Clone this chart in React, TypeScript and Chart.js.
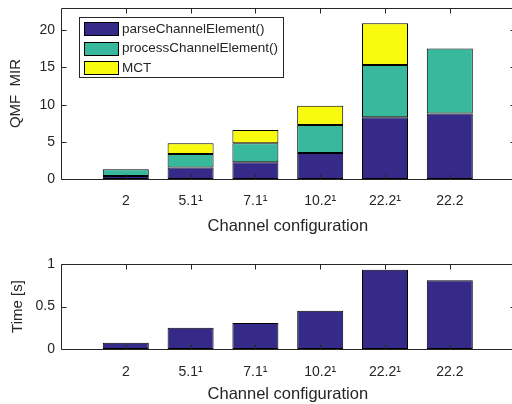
import React, { useEffect, useRef } from 'react';
import { Chart, registerables } from 'chart.js';

Chart.register(...registerables);

// ---- data ----
const categories = ['', '2', '5.1¹', '7.1¹', '10.2¹', '22.2¹', '22.2', ''];
const parseChannelElement = [null, 0.4, 1.55, 2.25, 3.5, 8.3, 8.8, null];
const processChannelElement = [null, 0.9, 1.8, 2.55, 3.75, 7.05, 8.75, null];
const mct = [null, 0, 1.45, 1.8, 2.6, 5.6, 0, null];
const timeSeconds = [null, 0.074, 0.25, 0.306, 0.45, 0.933, 0.81, null];
const mirTicks = [0, 5, 10, 15, 20];
const timeTicks = [0, 0.5, 1];
const seriesNames = ['parseChannelElement()', 'processChannelElement()', 'MCT'];
const seriesColors = ['#352a87', '#38b89c', '#f9fb0e'];

const FONT = "'Liberation Sans', Arial, Helvetica, sans-serif";
const AXIS_COLOR = '#262626';
const W = 520;
const PLOT_RIGHT = 514.6;

const boxPlugin = {
  id: 'matlabBox',
  afterDatasetsDraw(chart: any) {
    const { ctx, chartArea, scales } = chart;
    const { left, right, top, bottom } = chartArea;
    const xs = scales.x;
    const ys = scales.y;
    const TL = 5;
    ctx.save();
    ctx.strokeStyle = AXIS_COLOR;
    ctx.lineWidth = 1;
    const l = Math.round(left) + 0.5;
    const r = Math.round(right) + 0.5;
    const t = Math.round(top) + 0.5;
    const b = Math.round(bottom) + 0.5;
    ctx.beginPath();
    ctx.rect(l, t, r - l, b - t);
    for (let i = 1; i < categories.length - 1; i++) {
      const px = Math.round(xs.getPixelForValue(i)) + 0.5;
      ctx.moveTo(px, t);
      ctx.lineTo(px, t + TL);
      ctx.moveTo(px, b);
      ctx.lineTo(px, b - TL);
    }
    ys.ticks.forEach((tk: any) => {
      const py = Math.round(ys.getPixelForValue(tk.value)) + 0.5;
      ctx.moveTo(l, py);
      ctx.lineTo(l + TL, py);
      ctx.moveTo(r, py);
      ctx.lineTo(r - TL, py);
    });
    ctx.stroke();
    ctx.restore();
  },
};

const legendPlugin = {
  id: 'matlabLegend',
  afterDraw(chart: any) {
    if (!chart.options.plugins.matlabLegend?.show) return;
    const { ctx } = chart;
    ctx.save();
    const bx = 79.5, by = 17.5, bw = 204, bh = 60;
    ctx.fillStyle = '#ffffff';
    ctx.fillRect(bx, by, bw, bh);
    ctx.strokeStyle = AXIS_COLOR;
    ctx.lineWidth = 1;
    ctx.strokeRect(bx, by, bw, bh);
    const rows = [28.5, 48, 67.3];
    ctx.font = `13.5px ${FONT}`;
    ctx.textBaseline = 'middle';
    ctx.textAlign = 'left';
    seriesNames.forEach((name, i) => {
      const cy = rows[i];
      ctx.fillStyle = seriesColors[i];
      ctx.fillRect(84.5, Math.round(cy - 6.5) + 0.5, 34, 13);
      ctx.strokeStyle = '#000';
      ctx.strokeRect(84.5, Math.round(cy - 6.5) + 0.5, 34, 13);
      ctx.fillStyle = AXIS_COLOR;
      ctx.fillText(name, 122, cy + 0.5);
    });
    ctx.restore();
  },
};

function makeOptions(opts: {
  yMax: number;
  yTicks: number[];
  yTitle: string;
  yTitlePad: number;
  padTop: number;
  xHeight: number;
  xTickPad: number;
  xTitlePadBottom: number;
  legend: boolean;
}): any {
  return {
    responsive: false,
    maintainAspectRatio: false,
    animation: false,
    devicePixelRatio: 1,
    layout: { padding: { top: opts.padTop, right: W - PLOT_RIGHT, left: 0, bottom: 0 } },
    plugins: {
      legend: { display: false },
      tooltip: { enabled: false },
      matlabLegend: { show: opts.legend },
    },
    scales: {
      x: {
        type: 'category',
        stacked: true,
        offset: false,
        grid: { display: false, drawTicks: false },
        border: { display: false },
        ticks: {
          autoSkip: false,
          maxRotation: 0,
          minRotation: 0,
          padding: opts.xTickPad,
          color: AXIS_COLOR,
          font: { family: FONT, size: 14 },
        },
        title: {
          display: true,
          text: 'Channel configuration',
          color: AXIS_COLOR,
          font: { family: FONT, size: 16.5 },
          padding: { top: 0, bottom: opts.xTitlePadBottom },
        },
        afterFit: (s: any) => {
          s.height = opts.xHeight;
          s.paddingLeft = 0;
          s.paddingRight = 0;
        },
      },
      y: {
        stacked: true,
        min: 0,
        max: opts.yMax,
        grid: { display: false, drawTicks: false },
        border: { display: false },
        afterBuildTicks: (s: any) => {
          s.ticks = opts.yTicks.map((v) => ({ value: v }));
        },
        ticks: {
          padding: 6,
          color: AXIS_COLOR,
          font: { family: FONT, size: 14 },
          callback: (v: any) => String(v),
        },
        title: {
          display: true,
          text: opts.yTitle,
          color: AXIS_COLOR,
          font: { family: FONT, size: 15 },
          padding: { top: opts.yTitlePad, bottom: 0 },
        },
        afterFit: (s: any) => {
          s.width = 61;
          s.paddingTop = 0;
          s.paddingBottom = 0;
        },
      },
    },
  };
}

const barStyle = {
  borderColor: '#000000',
  borderWidth: 1,
  borderSkipped: false,
  categoryPercentage: 1,
  barPercentage: 0.71,
};

export default function App() {
  const topRef = useRef<HTMLCanvasElement>(null);
  const botRef = useRef<HTMLCanvasElement>(null);

  useEffect(() => {
    const top = new Chart(topRef.current as HTMLCanvasElement, {
      type: 'bar',
      data: {
        labels: categories,
        datasets: [
          { label: seriesNames[0], data: parseChannelElement, backgroundColor: seriesColors[0], ...barStyle },
          { label: seriesNames[1], data: processChannelElement, backgroundColor: seriesColors[1], ...barStyle },
          { label: seriesNames[2], data: mct, backgroundColor: seriesColors[2], ...barStyle },
        ] as any,
      },
      options: makeOptions({
        yMax: 23,
        yTicks: mirTicks,
        yTitle: 'QMF  MIR',
        yTitlePad: 7,
        padTop: 8,
        xHeight: 61,
        xTickPad: 13.5,
        xTitlePadBottom: 4,
        legend: true,
      }),
      plugins: [boxPlugin, legendPlugin],
    });
    const bot = new Chart(botRef.current as HTMLCanvasElement, {
      type: 'bar',
      data: {
        labels: categories,
        datasets: [
          { label: 'Time', data: timeSeconds, backgroundColor: seriesColors[0], ...barStyle },
        ] as any,
      },
      options: makeOptions({
        yMax: 1,
        yTicks: timeTicks,
        yTitle: 'Time [s]',
        yTitlePad: 9,
        padTop: 24,
        xHeight: 55,
        xTickPad: 14.5,
        xTitlePadBottom: 0,
        legend: false,
      }),
      plugins: [boxPlugin, legendPlugin],
    });
    return () => {
      top.destroy();
      bot.destroy();
    };
  }, []);

  return (
    <div
      style={{
        position: 'fixed',
        left: 0,
        top: 0,
        width: 512,
        height: 404,
        overflow: 'hidden',
        background: '#ffffff',
      }}
    >
      <canvas
        ref={topRef}
        width={W}
        height={240}
        style={{ position: 'absolute', left: 0, top: 0, width: W, height: 240, display: 'block' }}
      />
      <canvas
        ref={botRef}
        width={W}
        height={164}
        style={{ position: 'absolute', left: 0, top: 240, width: W, height: 164, display: 'block' }}
      />
    </div>
  );
}
